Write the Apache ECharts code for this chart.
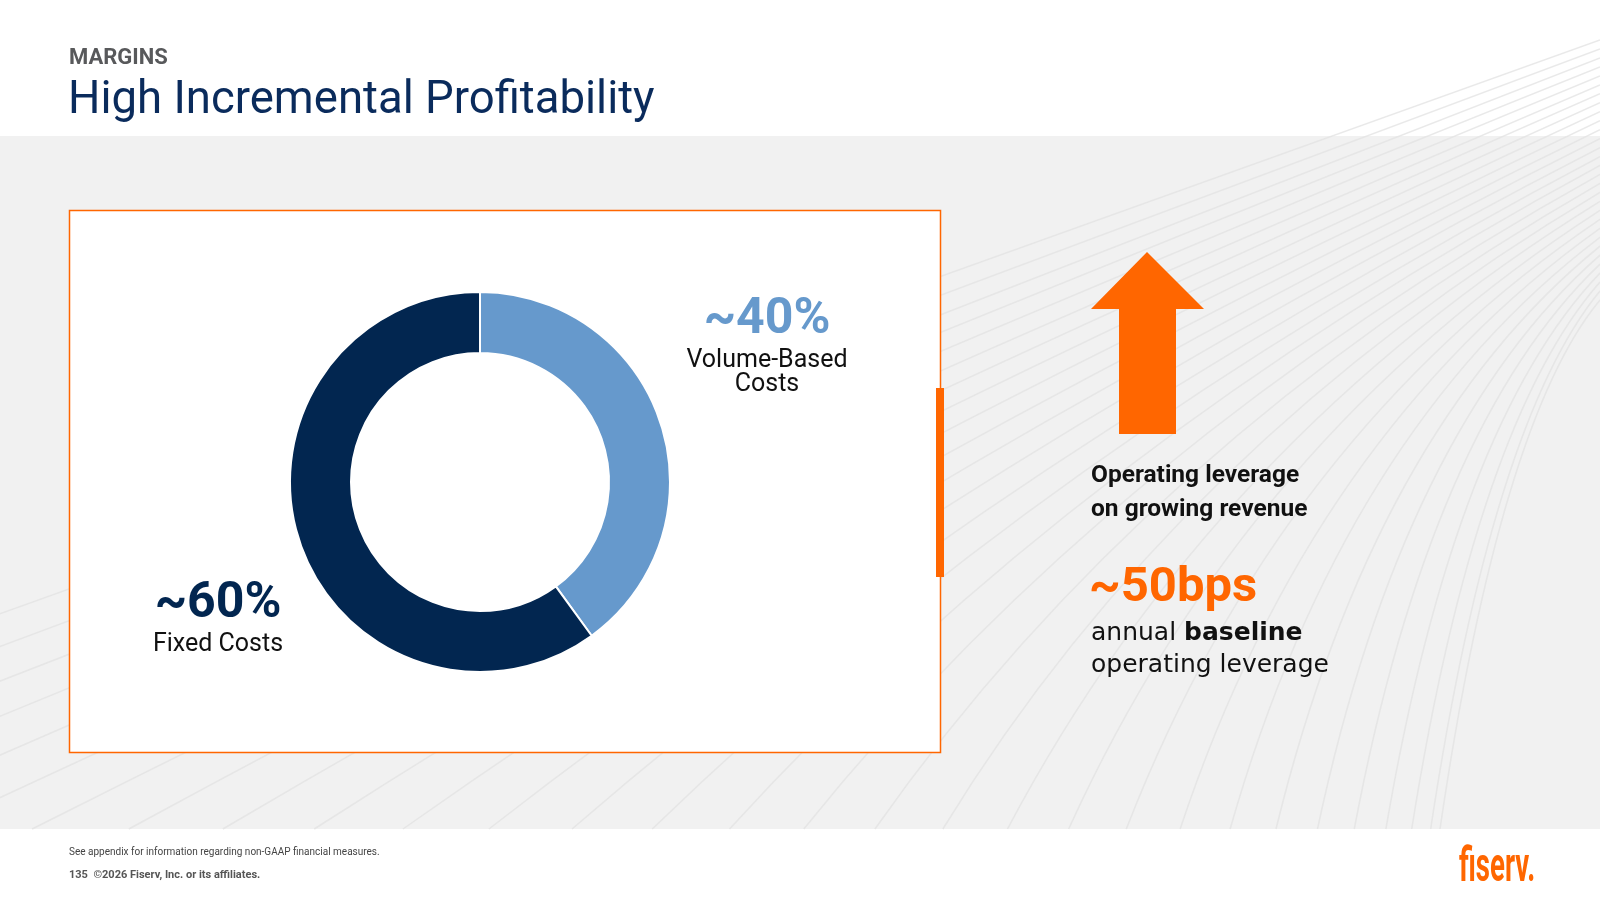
<!DOCTYPE html>
<html>
<head>
<meta charset="utf-8">
<title>High Incremental Profitability</title>
<script src="https://cdn.jsdelivr.net/npm/echarts@6/dist/echarts.min.js"></script>
<style>
  html, body { margin: 0; padding: 0; background: #fff; }
  #chart { width: 1600px; height: 900px; }
</style>
</head>
<body>
<div id="chart"></div>
<script>
// cost split
const costNames = ['Volume-Based\nCosts', 'Fixed Costs']
const costShares = [40, 60]
const costLabels = ['~40%', '~60%']
const costColors = ['#6699CC', '#022650']

const NAVY = '#0A2B5C'
const ORANGE = '#FF6600'
const FONT = 'Roboto, "DejaVu Sans", sans-serif'

// where each slice label block sits (centre of the block)
const labelSpots = [[767, 344], [218, 616]]

const chart = echarts.init(document.getElementById('chart'), null, { renderer: 'canvas' })

// background ribbon of thin curved lines, fanning up to the right
function ribbon() {
    const out = []
    const n = 30
    for (let i = 0; i < n; i++) {
        const u = i / (n - 1)
        const sx = -600 + 2040 * (1 - Math.pow(1 - u, 1.6))
        const ey = 40 + 260 * u
        const mx = (sx + 1600) / 2, my = (829 + ey) / 2
        const k = u * u
        const cx = mx + (sx + 60 - mx) * k
        const cy = my + (ey + 120 - my) * k
        out.push({
            type: 'bezierCurve',
            z: -9,
            silent: true,
            shape: { x1: sx, y1: 829, x2: 1600, y2: ey, cpx1: cx, cpy1: cy },
            style: { stroke: '#E2E2E2', lineWidth: 1.5, opacity: 0.75, fill: null }
        })
    }
    return out
}

const option = {
    backgroundColor: '#ffffff',
    animation: false,
    graphic: [
        { type: 'rect', z: -10, silent: true, shape: { x: 0, y: 136, width: 1600, height: 693 }, style: { fill: '#F1F1F1' } },
        ...ribbon(),
        // header
        { type: 'text', left: 69, top: 47, style: { text: 'MARGINS', font: 'bold 22px ' + FONT, fill: '#58595B' } },
        { type: 'text', left: 68, top: 79, style: { text: 'High Incremental Profitability', font: '45.5px ' + FONT, fill: NAVY } },
        // white panel with orange frame
        { type: 'rect', z: -5, shape: { x: 69.5, y: 210.5, width: 871, height: 542 }, style: { fill: '#FFFFFF', stroke: ORANGE, lineWidth: 1.5 } },
        { type: 'rect', z: -4, shape: { x: 936, y: 388, width: 8, height: 189 }, style: { fill: ORANGE } },
        // arrow
        {
            type: 'polygon', z: -4,
            shape: { points: [[1147, 252], [1204, 309], [1176, 309], [1176, 434], [1119, 434], [1119, 309], [1091, 309]] },
            style: { fill: ORANGE }
        },
        { type: 'text', left: 1091, top: 459, style: { text: 'Operating leverage\non growing revenue', font: 'bold 24.5px ' + FONT, fill: '#111', lineHeight: 34 } },
        { type: 'text', left: 1089, top: 564, style: { text: '~50bps', font: 'bold 49px ' + FONT, fill: ORANGE } },
        {
            type: 'text', left: 1091, top: 617,
            style: {
                text: '{r|annual }{b|baseline}\n{r|operating leverage}',
                lineHeight: 32,
                rich: {
                    r: { font: '25px "DejaVu Sans", sans-serif', fill: '#111', lineHeight: 32 },
                    b: { font: 'bold 25px "DejaVu Sans", sans-serif', fill: '#111', lineHeight: 32 }
                }
            }
        },
        // footer
        { type: 'text', left: 69, top: 847, style: { text: 'See appendix for information regarding non-GAAP financial measures.', font: '10px ' + FONT, fill: '#444' } },
        { type: 'text', left: 69, top: 870, style: { text: '135  \u00a92026 Fiserv, Inc. or its affiliates.', font: 'bold 11px ' + FONT, fill: '#555' } },
        { type: 'text', x: 1459, y: 845, scaleX: 0.6, scaleY: 1.05, style: { text: 'fiserv.', font: 'bold 46px ' + FONT, fill: ORANGE } }
    ],
    series: [{
        type: 'pie',
        center: [480, 482],
        radius: [129, 190],
        startAngle: 90,
        clockwise: true,
        silent: true,
        itemStyle: { borderColor: '#ffffff', borderWidth: 2 },
        label: {
            show: true,
            position: 'outside',
            formatter: p => '{pct|' + costLabels[p.dataIndex] + '}\n' +
                p.name.split('\n').map(s => '{nm|' + s + '}').join('\n'),
            rich: {
                pct: { fontFamily: FONT, fontWeight: 'bold', fontSize: 50, lineHeight: 58, align: 'center' },
                nm: { fontFamily: FONT, fontSize: 25, lineHeight: 24, color: '#111', align: 'center' }
            }
        },
        labelLine: { show: false },
        labelLayout: p => ({
            x: labelSpots[p.dataIndex][0],
            y: labelSpots[p.dataIndex][1],
            align: 'center',
            verticalAlign: 'middle'
        }),
        data: costShares.map((v, i) => ({
            name: costNames[i],
            value: v,
            itemStyle: { color: costColors[i] },
            label: { rich: { pct: { color: costColors[i] } } }
        }))
    }]
}

chart.setOption(option)
</script>
</body>
</html>
